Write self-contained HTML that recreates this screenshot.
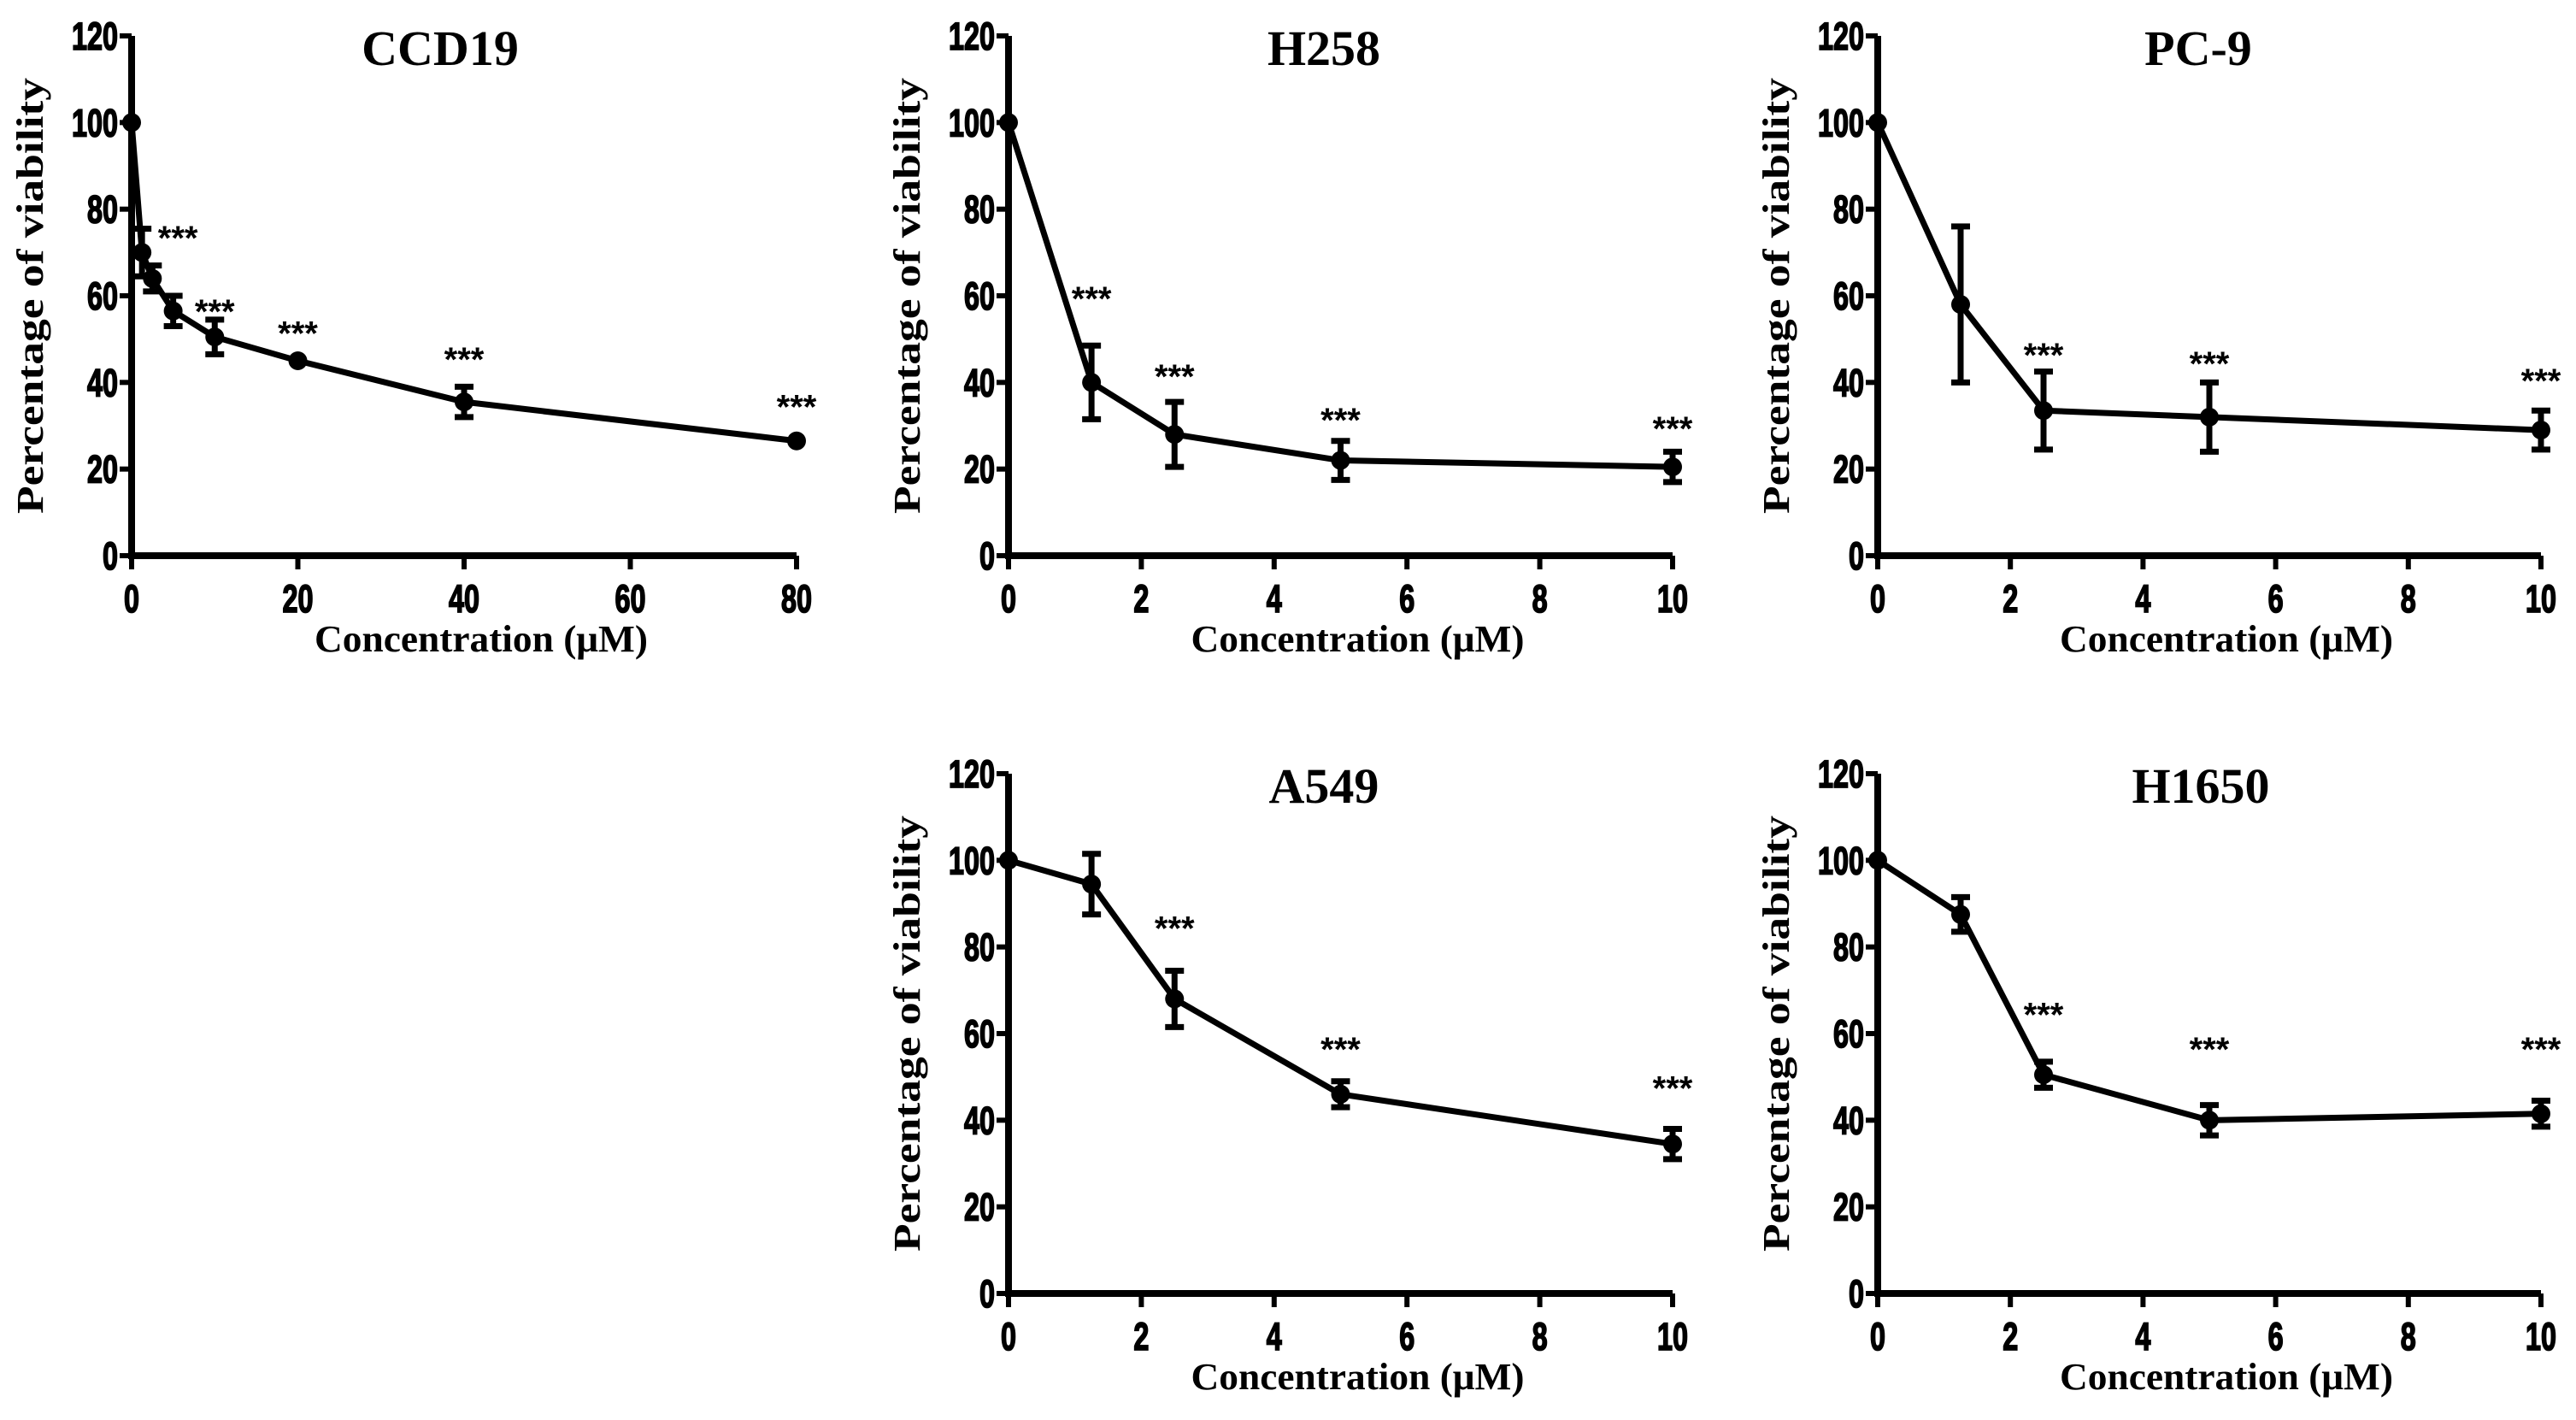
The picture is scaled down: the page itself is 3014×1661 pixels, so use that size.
<!DOCTYPE html>
<html><head><meta charset="utf-8"><style>
html,body{margin:0;padding:0;background:#fff;}
svg{display:block;}
.tick{font-family:"Liberation Sans Narrow","Liberation Sans",sans-serif;font-weight:bold;font-size:45px;fill:#000;stroke:#000;stroke-width:1.8px;}
.ttl{font-family:"Liberation Serif",serif;font-weight:bold;font-size:58px;fill:#000;}
.lab{font-family:"Liberation Serif",serif;font-weight:bold;font-size:44px;fill:#000;}
.star{font-family:"Liberation Sans",sans-serif;font-weight:bold;font-size:40px;fill:#000;}
</style></head><body>
<svg id="fig" width="3014" height="1661" viewBox="0 0 3014 1661" xmlns="http://www.w3.org/2000/svg"></svg>
<script>
// Data arrays
const ccdX = [0,1.25,2.5,5,10,20,40,80];
const ccdY = [100,70,64,56.5,50.5,45,35.5,26.5];
const ccdE = [0,5.5,3,3.5,4,0,3.5,0];
const ccdStars = [null,75,null,null,58,53,47,36];
const ccdXTicks = [0,20,40,60,80];

const doseX = [0,1.25,2.5,5,10];
const doseXTicks = [0,2,4,6,8,10];
const yTicks = [0,20,40,60,80,100,120];

const h258Y = [100,40,28,22,20.5];
const h258E = [0,8.5,7.5,4.5,3.5];
const h258Stars = [null,61,43,33,31];

const pc9Y = [100,58,33.5,32,29];
const pc9E = [0,18,9,8,4.5];
const pc9Stars = [null,null,48,46,42];

const a549Y = [100,94.5,68,46,34.5];
const a549E = [0,7,6.5,3,3.5];
const a549Stars = [null,null,86,58,49];

const h1650Y = [100,87.5,50.5,40,41.5];
const h1650E = [0,4,3,3.5,3];
const h1650Stars = [null,null,66,58,58];

const NS="http://www.w3.org/2000/svg";
const svg=document.getElementById('fig');
function mk(tag,attrs,parent){const e=document.createElementNS(NS,tag);for(const k in attrs)e.setAttribute(k,attrs[k]);(parent||svg).appendChild(e);return e;}

function panel(cfg){
  const g=mk('g',{});
  
  
  const xs=v=>cfg.x0+(v-cfg.xmin)/(cfg.xmax-cfg.xmin)*(cfg.x1-cfg.x0);
  const ys=v=>cfg.y0+(v/120)*(cfg.y1-cfg.y0);
  const ax=mk('path',{d:`M${cfg.x0} ${ys(120)} L${cfg.x0} ${ys(0)} L${cfg.x1} ${ys(0)}`,stroke:'#000','stroke-width':8,fill:'none'},g);
  
  
  yTicks.forEach(t=>{
    mk('line',{x1:cfg.x0-14,x2:cfg.x0,y1:ys(t),y2:ys(t),stroke:'#000','stroke-width':6},g);
    const s=String(t);
    const tx=mk('text',{x:cfg.x0-16,y:ys(t)+16,'text-anchor':'end',class:'tick',textLength:s.length*18,lengthAdjust:'spacingAndGlyphs'},g);
    tx.textContent=s;
    
    
  });
  cfg.xticks.forEach(t=>{
    mk('line',{x1:xs(t),x2:xs(t),y1:ys(0),y2:ys(0)+16,stroke:'#000','stroke-width':6},g);
    const s=String(t);
    const tx=mk('text',{x:xs(t),y:ys(0)+66,'text-anchor':'middle',class:'tick',textLength:s.length*18,lengthAdjust:'spacingAndGlyphs'},g);
    tx.textContent=s;
    
    
  });
  const pts=cfg.xv.map((x,i)=>xs(x)+','+ys(cfg.yv[i])).join(' ');
  const pl=mk('polyline',{points:pts,stroke:'#000','stroke-width':7,fill:'none','stroke-linejoin':'round'},g);
  
  
  cfg.xv.forEach((x,i)=>{
    const e=cfg.ev[i], cx=xs(x);
    if(e>0){
      const eb=mk('path',{d:`M${cx-11} ${ys(cfg.yv[i]+e)} H${cx+11} M${cx} ${ys(cfg.yv[i]+e)} V${ys(cfg.yv[i]-e)} M${cx-11} ${ys(cfg.yv[i]-e)} H${cx+11}`,stroke:'#000','stroke-width':7,fill:'none'},g);
      
      
    }
    const c=mk('circle',{cx:cx,cy:ys(cfg.yv[i]),r:11,fill:'#000'},g);
    
    
    if(cfg.st[i]!=null){
      const s=mk('text',{x:cx+(cfg.sdx?cfg.sdx[i]:0),y:ys(cfg.st[i])+22,'text-anchor':'middle',class:'star'},g);
      s.textContent='***';
      
      
    }
  });
  const t=mk('text',{x:cfg.tx,y:ys(120)+34,'text-anchor':'middle',class:'ttl'},g);
  t.textContent=cfg.title;
  
  
  const xl=mk('text',{x:(cfg.x0+cfg.x1)/2+20,y:ys(0)+112,'text-anchor':'middle',class:'lab',textLength:390,lengthAdjust:'spacingAndGlyphs'},g);
  xl.textContent='Concentration (μM)';
  
  
  const yc=(ys(0)+ys(120))/2;
  const yl=mk('text',{x:0,y:0,'text-anchor':'middle',class:'lab',transform:`translate(${cfg.x0-104},${yc}) rotate(-90)`,textLength:510,lengthAdjust:'spacingAndGlyphs'},g);
  yl.textContent='Percentage of viability';
  
  
}
const TOP={y0:650,y1:42}, BOT={y0:1513,y1:905};
panel({name:'ccd19',title:'CCD19',x0:154,x1:932,xmin:0,xmax:80,...TOP,xv:ccdX,yv:ccdY,ev:ccdE,st:ccdStars,sdx:[0,42,0,0,0,0,0,0],xticks:ccdXTicks,tx:515});
panel({name:'h258',title:'H258',x0:1180,x1:1957,xmin:0,xmax:10,...TOP,xv:doseX,yv:h258Y,ev:h258E,st:h258Stars,xticks:doseXTicks,tx:1549});
panel({name:'pc9',title:'PC-9',x0:2197,x1:2973,xmin:0,xmax:10,...TOP,xv:doseX,yv:pc9Y,ev:pc9E,st:pc9Stars,xticks:doseXTicks,tx:2572});
panel({name:'a549',title:'A549',x0:1180,x1:1957,xmin:0,xmax:10,...BOT,xv:doseX,yv:a549Y,ev:a549E,st:a549Stars,xticks:doseXTicks,tx:1549});
panel({name:'h1650',title:'H1650',x0:2197,x1:2973,xmin:0,xmax:10,...BOT,xv:doseX,yv:h1650Y,ev:h1650E,st:h1650Stars,xticks:doseXTicks,tx:2575});
</script>
</body></html>
